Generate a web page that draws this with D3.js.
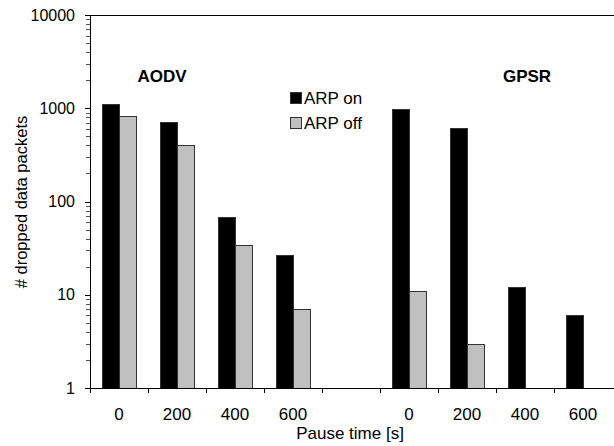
<!DOCTYPE html>
<html><head><meta charset="utf-8">
<script src="https://cdn.jsdelivr.net/npm/d3@7"></script>
<style>body{margin:0;background:#fff}svg{display:block}text{font-family:"Liberation Sans",Arial,sans-serif;fill:#000}</style>
</head><body><svg id="c" width="614" height="446"></svg>
<script>
const categories = ["a0","a200","a400","a600","gap","g0","g200","g400","g600"];
const tickLabels = ["0","200","400","600","","0","200","400","600"];
const arpOn  = [1100, 720, 68, 27, null, 970, 620, 12, 6];
const arpOff = [830, 405, 34, 7, null, 11, 3, null, null];
const seriesNames = ["ARP on", "ARP off"];
const seriesColors = ["#000000", "#c0c0c0"];
const groupLabels = ["AODV", "GPSR"];
const yTicks = [1, 10, 100, 1000, 10000];

const svg = d3.select("#c");
const x = d3.scaleBand().domain(categories).range([90, 612]).padding(0);
const y = d3.scaleLog().domain([1, 10000]).range([388, 15]);

// bars
const series = [arpOn, arpOff];
series.forEach((vals, si) => {
  svg.append("g").selectAll("rect").data(categories.map((c,i)=>({c, v: vals[i]})).filter(d=>d.v!=null))
    .join("rect")
    .attr("x", d => x(d.c) + 12.5 + si*17)
    .attr("width", 17)
    .attr("y", d => Math.round(y(d.v)) + 0.5)
    .attr("height", d => y(1) - Math.round(y(d.v)))
    .attr("fill", seriesColors[si])
    .attr("stroke", "#333")
    .attr("stroke-width", 1);
});

// y axis line and top line
svg.append("line").attr("x1",90.5).attr("x2",90.5).attr("y1",y(10000)).attr("y2",y(1)).attr("stroke","#000");
svg.append("line").attr("x1",90).attr("x2",614).attr("y1",Math.round(y(10000))+0.5).attr("y2",Math.round(y(10000))+0.5).attr("stroke","#000");
// minor ticks
const minor = [];
for (let d = 1; d < 10000; d *= 10) for (let m = 2; m <= 9; m++) minor.push(d*m);
svg.append("g").selectAll("line").data(minor).join("line")
  .attr("x1",86).attr("x2",90).attr("y1",d=>Math.round(y(d))+0.5).attr("y2",d=>Math.round(y(d))+0.5).attr("stroke","#555");
svg.append("g").selectAll("line").data(yTicks).join("line")
  .attr("x1",85).attr("x2",90).attr("y1",d=>Math.round(y(d))+0.5).attr("y2",d=>Math.round(y(d))+0.5).attr("stroke","#000");
svg.append("g").selectAll("text").data(yTicks).join("text")
  .attr("x",75).attr("y",d=>y(d)).attr("dy","0.35em").attr("text-anchor","end")
  .attr("font-size",16).text(d=>d);

// x axis
svg.append("line").attr("x1",90).attr("x2",614).attr("y1",388.5).attr("y2",388.5).attr("stroke","#000");
const bounds = categories.map(c => x(c));
svg.append("g").selectAll("line").data(bounds).join("line")
  .attr("x1",d=>Math.round(d)+0.5).attr("x2",d=>Math.round(d)+0.5).attr("y1",388).attr("y2",393).attr("stroke","#000");
svg.append("g").selectAll("text").data(categories.map((c,i)=>({c,t:tickLabels[i]}))).join("text")
  .attr("x",d=>x(d.c)+x.bandwidth()/2).attr("y",414).attr("dy","0.35em").attr("text-anchor","middle")
  .attr("font-size",17).text(d=>d.t);

svg.append("text").attr("x",350).attr("y",433).attr("dy","0.35em").attr("text-anchor","middle")
  .attr("font-size",17).text("Pause time [s]");
svg.append("text").attr("transform","translate(21,202) rotate(-90)").attr("dy","0.35em")
  .attr("text-anchor","middle").attr("font-size",16.5).text("# dropped data packets");

// group labels
svg.append("text").attr("x",162).attr("y",76).attr("dy","0.35em").attr("text-anchor","middle")
  .attr("font-size",17).attr("font-weight","bold").text(groupLabels[0]);
svg.append("text").attr("x",527).attr("y",76).attr("dy","0.35em").attr("text-anchor","middle")
  .attr("font-size",17).attr("font-weight","bold").text(groupLabels[1]);

// legend
const lg = svg.append("g");
seriesNames.forEach((n,i) => {
  lg.append("rect").attr("x",290.5).attr("y",92.5+i*25).attr("width",11).attr("height",11)
    .attr("fill",seriesColors[i]).attr("stroke","#333");
  lg.append("text").attr("x",304).attr("y",98+i*25).attr("dy","0.35em").attr("font-size",17).text(n);
});
</script></body></html>
